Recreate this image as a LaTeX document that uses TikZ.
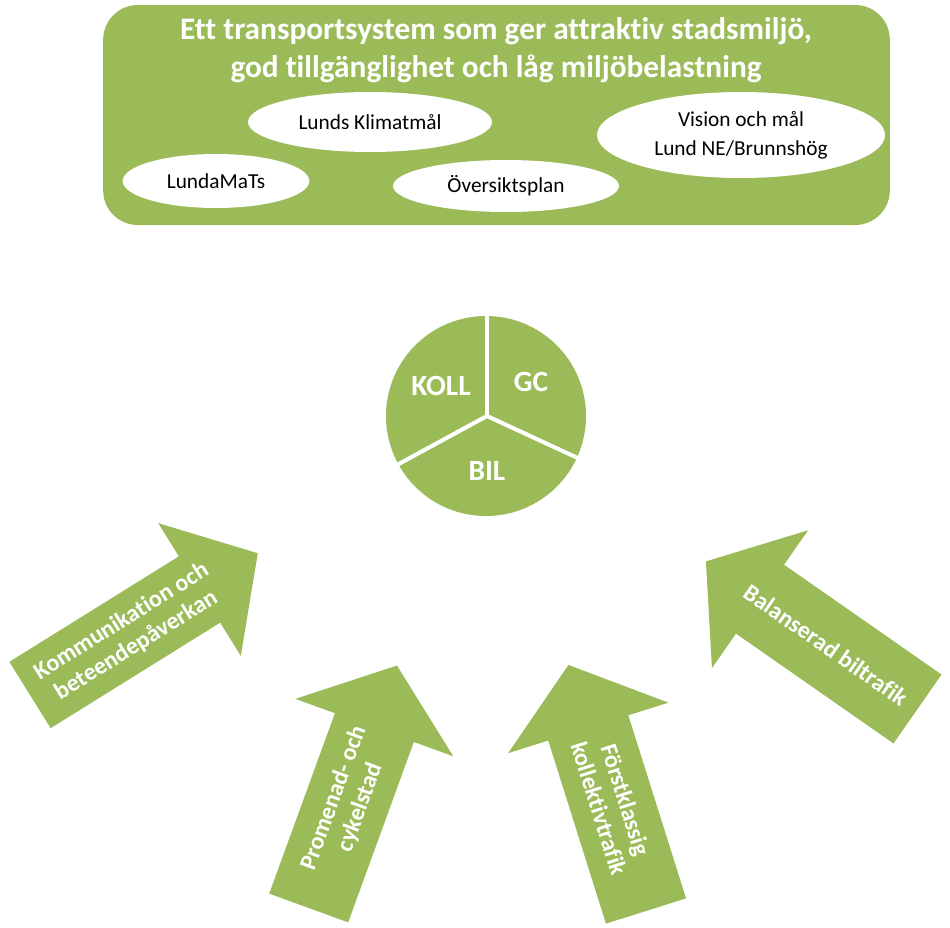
\documentclass[tikz,border=0pt]{standalone}
\usepackage{fontspec}
\setmainfont{Carlito}[Ligatures=NoCommon]
\usetikzlibrary{positioning,shapes.geometric}
\definecolor{gron}{HTML}{9BBB59}
\tikzset{
  ram/.style      = {fill=gron, rounded corners=26pt, minimum width=590pt,
                     minimum height=165pt, inner sep=0pt},
  rubrik/.style   = {text=white, align=center, inner sep=0pt,
                     font=\fontsize{23.5}{28.5}\selectfont\bfseries},
  ellips/.style   = {ellipse, fill=white, inner sep=0pt, align=center,
                     font=\fontsize{16}{21.75}\selectfont},
  sektor/.style   = {text=white, font=\fontsize{22}{22}\selectfont\bfseries},
  delning/.style  = {white, line width=3pt},
  piltext/.style  = {text=white, align=center, inner sep=0pt,
                     font=\fontsize{18}{21}\selectfont\bfseries}
}
\newcommand{\blockpil}[6][]{%
  \begin{scope}[shift={#2}, rotate=#3, #1]
    \fill[gron] (0,-42) -- (192,-42) -- (192,-84) -- (258,0) -- (192,84) -- (192,42) -- (0,42) -- cycle;
    \node[piltext, rotate=#4] (#5) at (112,0) {#6};
  \end{scope}}

\begin{document}
\begin{tikzpicture}[x=0.75pt, y=-0.75pt]
    \useasboundingbox (0,0) rectangle (950,928);

    % malbild
    \node[ram] (ram) at (496.5,115) {};
    \node[rubrik] (rubrik) at (496,50) {Ett transportsystem som ger attraktiv stadsmiljö,\\ god tillgänglighet och låg miljöbelastning};
    \node[ellips, minimum width=183pt, minimum height=45pt] (klimat) at (370,122) {Lunds Klimatmål};
    \node[ellips, minimum width=216pt, minimum height=64.5pt] (vision) at (741,135) {Vision och mål\\ Lund NE/Brunnshög};
    \node[ellips, minimum width=140pt, minimum height=40.5pt] (lundamats) at (216,181) {LundaMaTs};
    \node[ellips, minimum width=169.5pt, minimum height=39pt] (oversikt) at (506,186) {Översiktsplan};

    % fordelning
    \node[circle, fill=gron, minimum size=150pt, inner sep=0pt] (tarta) at (486,416) {};
    \coordinate (mitt) at (487,416);
    \coordinate (upp) at (487,312);
    \coordinate (vanster) at (395,466);
    \coordinate (hoger) at (582,460);
    \draw[delning] (mitt) -- (upp);
    \draw[delning] (mitt) -- (vanster);
    \draw[delning] (mitt) -- (hoger);
    \node[sektor] (koll) at (441,386) {KOLL};
    \node[sektor] (gc) at (531,382) {GC};
    \node[sektor] (bil) at (487,471) {BIL};

    % atgarder
    \blockpil[xscale=1.04, yscale=0.93]{(30,695)}{31.9}{31.9}{kommunikation}{Kommunikation och\\ beteendepåverkan}
    \blockpil{(308.7,908)}{70}{70}{promenad}{Promenad- och\\ cykelstad}
    \blockpil{(646,911)}{107.5}{-72.5}{kollektiv}{Förstklassig\\ kollektivtrafik}
    \blockpil{(917.5,709)}{145.1}{-34.9}{biltrafik}{Balanserad biltrafik}
\end{tikzpicture}
\end{document}
